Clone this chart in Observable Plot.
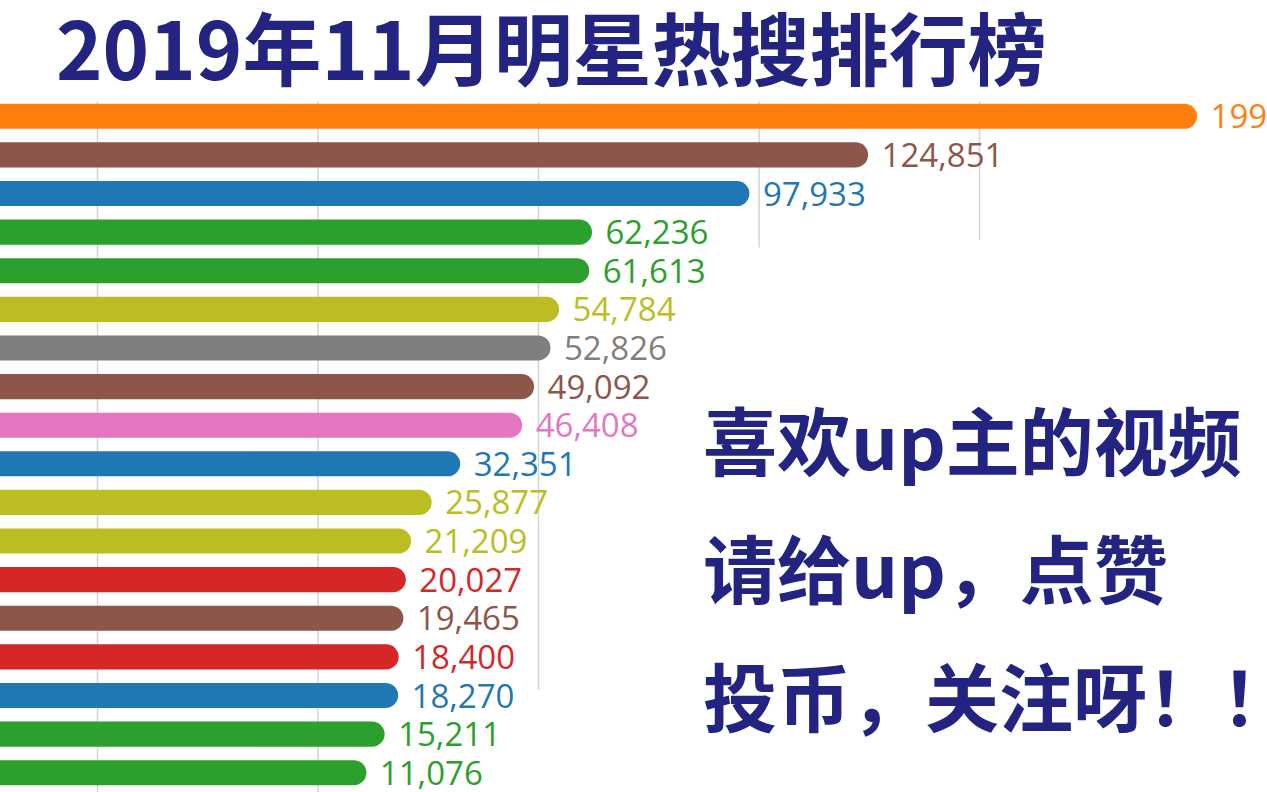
<!DOCTYPE html>
<html>
<head>
<meta charset="utf-8">
<script src="https://cdn.jsdelivr.net/npm/d3@7"></script>
<script src="https://cdn.jsdelivr.net/npm/@observablehq/plot@0.6"></script>
<style>
  html, body { margin: 0; padding: 0; background: #fff; overflow: hidden; }
  #wrap { position: relative; width: 1267px; height: 792px; overflow: hidden; }
  #chart { position: absolute; left: 0; top: 0; }
  #title { position: absolute; left: 56px; top: 6px; font: 700 79px "Noto Sans CJK SC"; color: #232382; line-height: 1; white-space: nowrap; }
  #note { position: absolute; left: 703px; top: 374px; font: 700 74px "Noto Sans CJK SC"; color: #232382; line-height: 128px; white-space: nowrap; }
</style>
</head>
<body>
<div id="wrap">
  <div id="chart"></div>
  <div id="title">2019年11月明星热搜排行榜</div>
  <div id="note">喜欢up主的视频<br>请给up，点赞<br>投币，关注呀！！</div>
</div>
<script>
// Values read from the frame (top to bottom)
const values = [199430, 124851, 97933, 62236, 61613, 54784, 52826, 49092, 46408,
                32351, 25877, 21209, 20027, 19465, 18400, 18270, 15211, 11076];
// colour group of each bar (index into category10)
const groups = [1, 5, 0, 2, 2, 8, 7, 5, 6, 0, 8, 8, 3, 5, 3, 0, 2, 2];
// gridline values and how far down (rank) each gridline reaches
const gridValues = [-50000, 0, 50000, 100000, 150000];
const gridEnds = [18.5, 18.5, 15.85, 4.4, 4.2];

const data = values.map((v, i) => ({rank: i + 1, value: v, group: groups[i]}));
const grid = gridValues.map((v, i) => ({value: v, end: gridEnds[i]}));

const xMin = -72000, xMax = 215300, barBase = -90000;

const chart = Plot.plot({
  width: 1267,
  height: 792,
  marginTop: 97,
  marginBottom: 0,
  marginLeft: 0,
  marginRight: 0,
  x: {domain: [xMin, xMax], axis: null},
  y: {domain: [0.5, 18.5], reverse: true, axis: null},
  color: {type: "ordinal", domain: d3.range(10), range: d3.schemeCategory10},
  style: {background: "white", overflow: "hidden"},
  marks: [
    Plot.ruleX(grid, {x: "value", y1: 0.62, y2: "end", stroke: "#d4d4d4", strokeWidth: 1.5}),
    Plot.rect(data, {
      x1: () => barBase, x2: "value",
      y1: d => d.rank - 0.325, y2: d => d.rank + 0.325,
      fill: "group", rx: 12.5, clip: true
    }),
    Plot.text(data, {
      x: "value", y: "rank", text: d => d3.format(",")(d.value),
      fill: "group", textAnchor: "start", dx: 13, dy: 1,
      fontSize: 33, fontFamily: "Open Sans", lineAnchor: "middle"
    })
  ]
});
document.getElementById("chart").appendChild(chart);
</script>
</body>
</html>
